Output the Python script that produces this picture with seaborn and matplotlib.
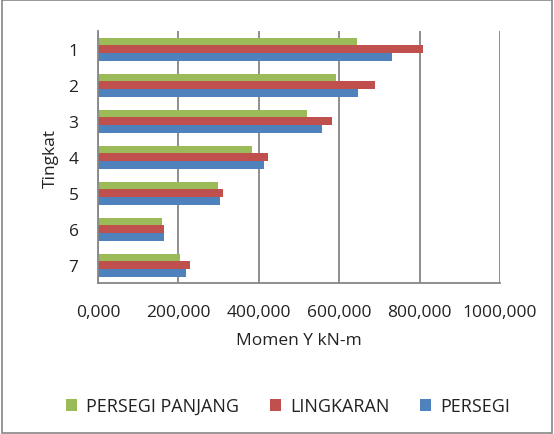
import pandas as pd
import matplotlib.pyplot as plt
import seaborn as sns
from matplotlib.ticker import FuncFormatter, FixedLocator
from matplotlib.patches import Rectangle

tingkat = ["1", "2", "3", "4", "5", "6", "7"]
persegi_panjang = [645000, 592000, 520000, 382000, 299000, 159000, 204000]
lingkaran = [809000, 690000, 582000, 424000, 311000, 164000, 229000]
persegi = [732000, 647000, 557000, 412000, 304000, 164000, 219000]
series = ["PERSEGI PANJANG", "LINGKARAN", "PERSEGI"]
colors = ["#9BBB59", "#C0504D", "#4F81BD"]
x_ticks = [0, 200000, 400000, 600000, 800000, 1000000]

df = pd.DataFrame({
    "Tingkat": tingkat * 3,
    "Momen": persegi_panjang + lingkaran + persegi,
    "Tipe": [s for s in series for _ in tingkat],
})

sns.set_style("white")
plt.rcParams["font.family"] = ["Open Sans", "DejaVu Sans"]
grey = "#868686"
txt = "#222222"
fs = 12.5

fig = plt.figure(figsize=(5.54, 4.35), dpi=100)
ax = fig.add_axes([0.177, 0.347, 0.7255, 0.579])

sns.barplot(data=df, y="Tingkat", x="Momen", hue="Tipe", hue_order=series,
            palette=colors, orient="h", width=0.64, order=tingkat,
            saturation=1, linewidth=0, ax=ax)

ax.set_xlim(0, 1000000)
ax.set_ylim(6.5, -0.5)
ax.set_xticks(x_ticks)
ax.xaxis.set_major_formatter(FuncFormatter(lambda v, p: f"{int(v / 1000)},000"))
ax.grid(axis="x", color=grey, linewidth=1.3)
ax.set_axisbelow(True)

# tick marks sit between the categories
ax.yaxis.set_minor_locator(FixedLocator([i - 0.5 for i in range(8)]))
ax.tick_params(axis="y", which="major", length=0, pad=14, labelsize=fs, labelcolor=txt)
ax.tick_params(axis="y", which="minor", length=5, width=1.3, color=grey, direction="out")
ax.tick_params(axis="x", which="major", length=5, width=1.3, color=grey, direction="out",
               pad=10, labelsize=fs, labelcolor=txt)

for s in ["top", "right"]:
    ax.spines[s].set_visible(False)
for s in ["left", "bottom"]:
    ax.spines[s].set_color(grey)
    ax.spines[s].set_linewidth(1.3)

ax.set_xlabel("Momen Y kN-m", fontsize=fs, color=txt, labelpad=9)
ax.set_ylabel("Tingkat", fontsize=fs, color=txt, labelpad=7)

handles, labels = ax.get_legend_handles_labels()
ax.legend_.remove()
fig.legend(handles, labels, loc="center", bbox_to_anchor=(0.52, 0.064), ncol=3,
           frameon=False, fontsize=13, handlelength=0.6, handleheight=0.6,
           columnspacing=1.7, handletextpad=0.5, labelcolor=txt)

fig.patches.append(Rectangle((0.003, 0.003), 0.994, 0.994, transform=fig.transFigure,
                             fill=False, edgecolor=grey, linewidth=1.2))

fig.savefig("out.png", dpi=100)
